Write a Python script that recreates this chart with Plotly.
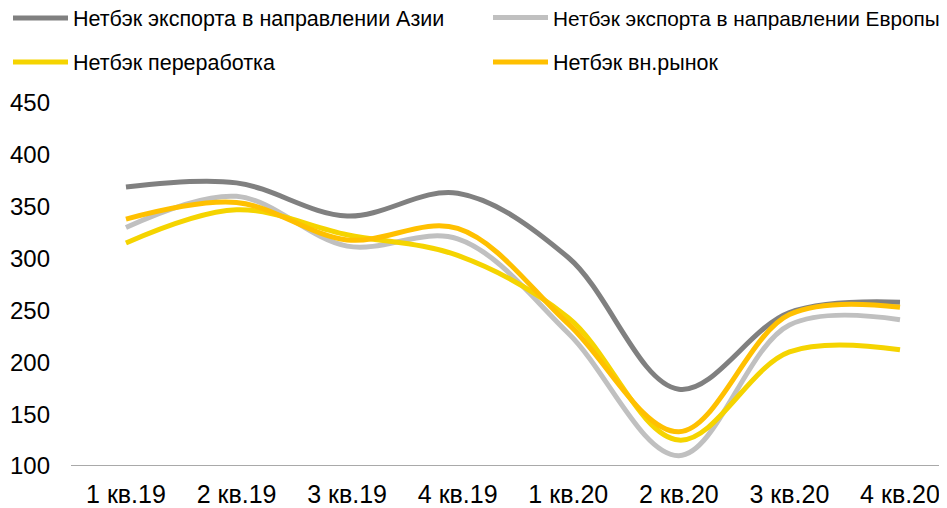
import plotly.graph_objects as go

categories = ["1 кв.19", "2 кв.19", "3 кв.19", "4 кв.19", "1 кв.20", "2 кв.20", "3 кв.20", "4 кв.20"]
asia = [369, 373, 341, 363, 301, 174, 248, 258]
europe = [330, 360, 312, 319, 228, 110, 236, 241]
pererabotka = [315, 347, 323, 303, 243, 125, 210, 212]
vnrynok = [338, 354, 318, 329, 237, 133, 246, 253]
y_ticks = [100, 150, 200, 250, 300, 350, 400, 450]

names = ["Нетбэк экспорта в направлении Азии", "Нетбэк экспорта в направлении Европы",
         "Нетбэк переработка", "Нетбэк вн.рынок"]
colors = ["#808080", "#C0C0C0", "#F5D400", "#FFC000"]
series = [asia, europe, pererabotka, vnrynok]
legends = ["legend", "legend2", "legend3", "legend4"]

# page body adds an 8px offset; figure is sized to fill the rest of the window
W, H = 939, 500

fig = go.Figure()
for name, col, vals, lg in zip(names, colors, series, legends):
    fig.add_trace(go.Scatter(
        x=categories, y=vals, name=name, mode="lines",
        line=dict(color=col, width=5, shape="spline", smoothing=1.0),
        legend=lg,
    ))

font_family = "Liberation Sans, Arial, sans-serif"


def legend_cfg(px, py, fs=21.5):
    return dict(
        orientation="h", xanchor="left", yanchor="middle",
        xref="container", yref="container",
        x=px / W, y=1 - py / H,
        font=dict(family=font_family, size=fs, color="#000000"),
        bgcolor="rgba(0,0,0,0)", itemwidth=55,
    )


fig.update_layout(
    width=W, height=H,
    margin=dict(l=63, r=0, t=95, b=42, autoexpand=False),
    paper_bgcolor="white", plot_bgcolor="white",
    showlegend=True,
    legend=legend_cfg(0, 10),
    legend2=legend_cfg(480, 10, 20.8),
    legend3=legend_cfg(0, 54),
    legend4=legend_cfg(480, 54),
    xaxis=dict(
        type="category", range=[-0.497, 7.425],
        showgrid=False, zeroline=False, showline=False,
        ticks="", ticklabelstandoff=11,
        tickfont=dict(family=font_family, size=25, color="#000000"),
    ),
    yaxis=dict(
        range=[100, 450], tickvals=y_ticks,
        showgrid=False, zeroline=False, showline=False, ticks="",
        ticklabelstandoff=20,
        tickfont=dict(family=font_family, size=24, color="#000000"),
    ),
    shapes=[dict(type="line", xref="paper", yref="y", x0=0, x1=1, y0=100, y1=100,
                 line=dict(color="#8C8C8C", width=1.5), layer="below")],
)

fig.write_html("out.html")
